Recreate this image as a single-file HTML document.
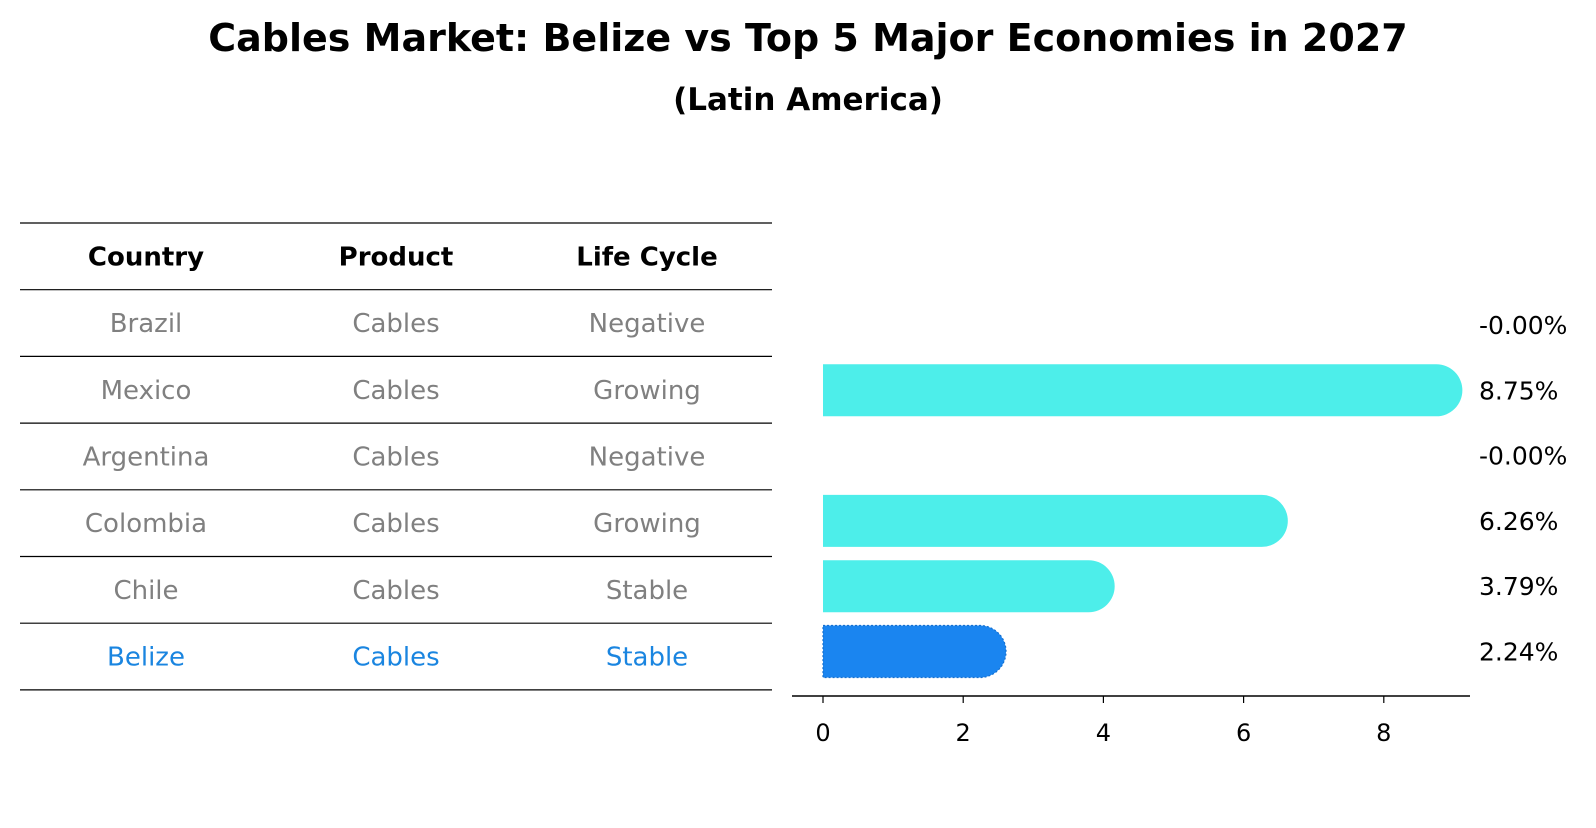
<!DOCTYPE html>
<html><head><meta charset="utf-8"><style>
body{margin:0;background:#fff;font-family:"Liberation Sans","DejaVu Sans",sans-serif}
svg text{font-family:"DejaVu Sans","Liberation Sans",sans-serif}
</style></head><body>
<svg width="1596" height="823" viewBox="0 0 1596 823" xmlns="http://www.w3.org/2000/svg">
<text x="808" y="51" text-anchor="middle" font-size="38" font-weight="bold">Cables Market: Belize vs Top 5 Major Economies in 2027</text>
<text x="808" y="110" text-anchor="middle" font-size="31" font-weight="bold">(Latin America)</text>
<g id="table"></g>
<g id="bars"></g>
</svg>
<script>
const countries=["Brazil","Mexico","Argentina","Colombia","Chile","Belize"];
const products=["Cables","Cables","Cables","Cables","Cables","Cables"];
const cycles=["Negative","Growing","Negative","Growing","Stable","Stable"];
const values=[-0.0,8.75,-0.0,6.26,3.79,2.24];
const labels=["-0.00%","8.75%","-0.00%","6.26%","3.79%","2.24%"];
const ticks=[0,2,4,6,8];
const NS="http://www.w3.org/2000/svg";
function mk(t,a,p){const e=document.createElementNS(NS,t);for(const k in a)e.setAttribute(k,a[k]);p.appendChild(e);return e;}
const tbl=document.getElementById('table');
const rowH=66.7, tableTop=223, colX=[146,396,647];
for(let i=0;i<=countries.length+1;i++){
  const l=mk('line',{x1:20,x2:772,y1:tableTop+i*rowH,y2:tableTop+i*rowH,stroke:'#000','stroke-width':1.2},tbl);
  
  
}
["Country","Product","Life Cycle"].forEach((h,j)=>{
  const t=mk('text',{x:colX[j],y:tableTop+rowH/2+9,'text-anchor':'middle','font-size':26,'font-weight':'bold'},tbl);
  t.textContent=h;
  
  
});
countries.forEach((c,i)=>{
  const col=c==="Belize"?"#1a85e0":"#808080";
  [c,products[i],cycles[i]].forEach((v,j)=>{
    const t=mk('text',{x:colX[j],y:tableTop+(i+1.5)*rowH+9,'text-anchor':'middle','font-size':26,fill:col},tbl);
    t.textContent=v;
    
    
  });
});
const g=document.getElementById('bars');
const x0=823, pxu=70.1, cy0=325, step=65.3, bh=52;
const X=v=>x0+v*pxu, Y=i=>cy0+i*step;
values.forEach((v,i)=>{
  const belize=countries[i]==="Belize";
  if(v>0){
    const w=X(v)-x0, r=bh/2, y=Y(i)-r;
    const d=`M${x0},${y} H${x0+w} A${r},${r} 0 0 1 ${x0+w},${y+bh} H${x0} Z`;
    const p=mk('path',{d:d,fill:belize?'#1a85f0':'#4deeea'},g);
    if(belize){p.setAttribute('stroke','#1570d0');p.setAttribute('stroke-dasharray','2,2');p.setAttribute('stroke-width','1.2');}
    
    
  }
  const t=mk('text',{x:1479,y:Y(i)+9,'font-size':25},g);
  t.textContent=labels[i];
  
  
});
const ax=mk('line',{x1:792,x2:1470,y1:696,y2:696,stroke:'#000','stroke-width':1.5},g);


ticks.forEach(v=>{
  const l=mk('line',{x1:X(v),x2:X(v),y1:696,y2:703,stroke:'#000','stroke-width':1.2},g);
  
  
  const t=mk('text',{x:X(v),y:741,'text-anchor':'middle','font-size':24},g);
  t.textContent=v;
  
  
});
</script>
</body></html>
